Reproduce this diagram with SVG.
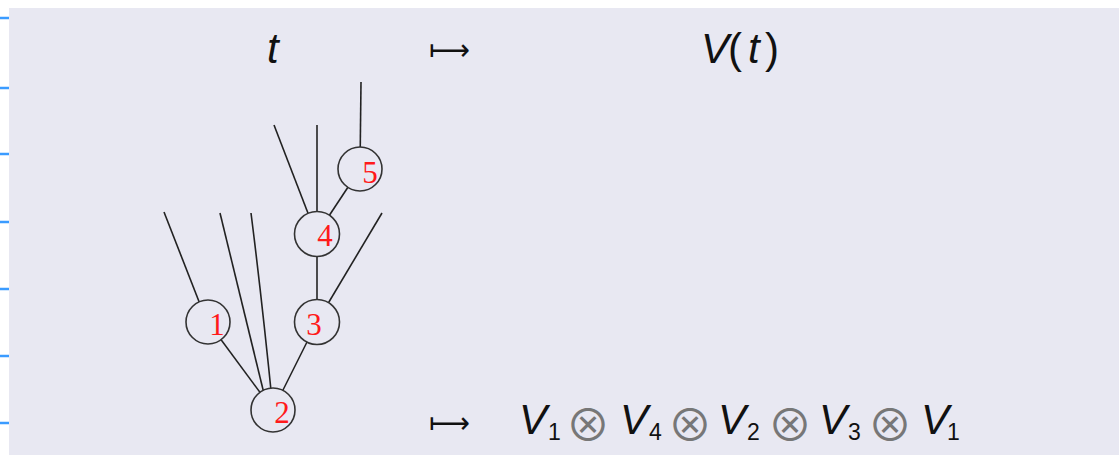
<svg xmlns="http://www.w3.org/2000/svg" width="1119" height="455" viewBox="0 0 1119 455">
<style>
.tick{stroke:#3a9bff;stroke-width:2.5}
.edge{stroke:#222;stroke-width:1.6;fill:none}
.node circle{fill:#e8e8f2;stroke:#333;stroke-width:1.6}
.node text{font-family:"Liberation Serif",serif;font-size:31px;fill:#ff1a1a;text-anchor:middle}
.m{font-family:"Liberation Sans",sans-serif;font-size:42px;fill:#111;font-style:italic}
.up{font-style:normal}
.sub{font-family:"Liberation Sans",sans-serif;font-size:23px;fill:#111}
.op{font-family:"Noto Sans CJK JP","DejaVu Sans",sans-serif;font-size:45px;fill:#777;text-anchor:middle}
.arr{font-family:"DejaVu Sans",sans-serif;font-size:30px;fill:#111}
</style>
<rect x="0" y="0" width="1119" height="455" fill="#ffffff"/>
<rect x="9" y="8" width="1110" height="447" fill="#e8e8f2"/>
<g id="ticks">
<line class="tick" x1="0" y1="18" x2="9" y2="18"/>
<line class="tick" x1="0" y1="88" x2="9" y2="88"/>
<line class="tick" x1="0" y1="154" x2="9" y2="154"/>
<line class="tick" x1="0" y1="222" x2="9" y2="222"/>
<line class="tick" x1="0" y1="289" x2="9" y2="289"/>
<line class="tick" x1="0" y1="356" x2="9" y2="356"/>
<line class="tick" x1="0" y1="423" x2="9" y2="423"/>
</g>
<g id="connectors">
<line class="edge" x1="361" y1="82" x2="360" y2="169"/>
<line class="edge" x1="317" y1="125" x2="317" y2="234"/>
<line class="edge" x1="274" y1="125" x2="316" y2="234"/>
<line class="edge" x1="360" y1="169" x2="317" y2="234"/>
<line class="edge" x1="382" y1="213" x2="317" y2="322"/>
<line class="edge" x1="317" y1="234" x2="317" y2="322"/>
<line class="edge" x1="164" y1="212" x2="207" y2="322"/>
<line class="edge" x1="208" y1="322" x2="273" y2="410"/>
<line class="edge" x1="220" y1="213" x2="268" y2="410"/>
<path class="edge" d="M251,213 Q262,300 273,410"/>
<line class="edge" x1="317" y1="322" x2="273" y2="410"/>
</g>
<g id="node5" class="node"><circle cx="360" cy="169" r="22"/><text x="370" y="183">5</text></g>
<g id="node4" class="node"><circle cx="317" cy="234" r="22.5"/><text x="325" y="246">4</text></g>
<g id="node1" class="node"><circle cx="208" cy="322" r="22"/><text x="217" y="335">1</text></g>
<g id="node3" class="node"><circle cx="317" cy="322" r="22.5"/><text x="314" y="335">3</text></g>
<g id="node2" class="node"><circle cx="273" cy="410" r="22"/><text x="282" y="423">2</text></g>
<g id="top-formula">
<text class="m" x="267" y="63">t</text>
<text class="arr" x="429" y="60" textLength="41" lengthAdjust="spacingAndGlyphs">⟼</text>
<text class="m" y="63"><tspan x="701">V</tspan><tspan class="up" x="728">(</tspan><tspan x="748">t</tspan><tspan class="up" x="765">)</tspan></text>
</g>
<g id="bottom-formula">
<text class="arr" x="429" y="433" textLength="41" lengthAdjust="spacingAndGlyphs">⟼</text>
<text class="m" x="519" y="434">V</text><text class="sub" x="548" y="440">1</text>
<text class="op" x="588" y="442">⊗</text>
<text class="m" x="620" y="434">V</text><text class="sub" x="649" y="440">4</text>
<text class="op" x="690" y="442">⊗</text>
<text class="m" x="718" y="434">V</text><text class="sub" x="747" y="440">2</text>
<text class="op" x="790" y="442">⊗</text>
<text class="m" x="819" y="434">V</text><text class="sub" x="848" y="440">3</text>
<text class="op" x="890" y="442">⊗</text>
<text class="m" x="921" y="434">V</text><text class="sub" x="947" y="440">1</text>
</g>
</svg>
